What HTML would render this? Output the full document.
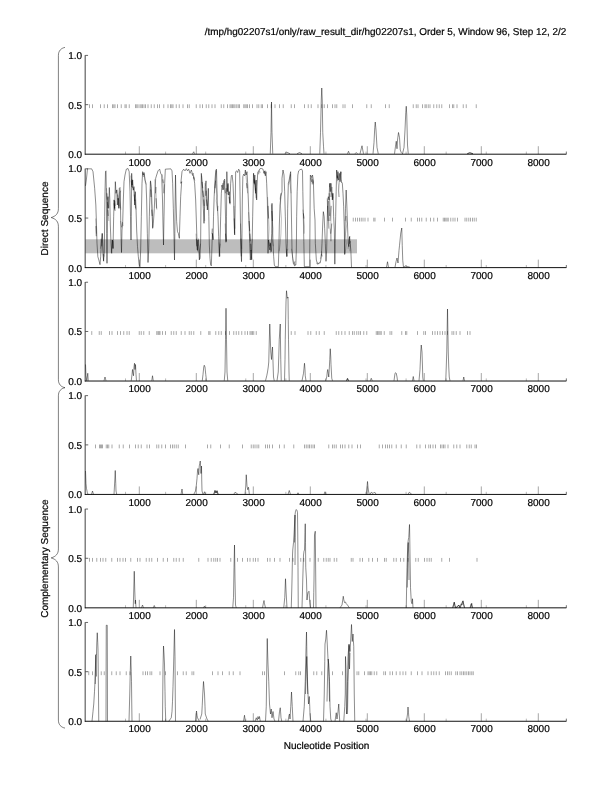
<!DOCTYPE html>
<html lang="en"><head><meta charset="utf-8"><title>hg02207s1 plot</title>
<style>html,body{margin:0;padding:0;background:#fff}body{width:612px;height:792px;overflow:hidden}svg{display:block;filter:grayscale(1)}</style>
</head><body>
<svg width="612" height="792" viewBox="0 0 612 792">
<rect width="612" height="792" fill="#fff"/>
<rect x="85.45" y="239.3" width="271.55" height="14.0" fill="#bdbdbd"/>
<text x="566.3" y="34.7" text-anchor="end" font-family="Liberation Sans, Arial, Helvetica, sans-serif" font-size="10" fill="#000" stroke="#000" stroke-width="0.2" text-rendering="geometricPrecision" textLength="361.5" lengthAdjust="spacingAndGlyphs">/tmp/hg02207s1/only/raw_result_dir/hg02207s1, Order 5, Window 96, Step 12, 2/2</text>
<path d="M89.50 104.30V108.10M92.50 104.30V108.10M100.50 104.30V108.10M104.25 104.30V108.10M107.50 104.30V108.10M112.50 104.30V108.10M113.75 104.30V108.10M115.00 104.30V108.10M117.50 104.30V108.10M121.25 104.30V108.10M125.00 104.30V108.10M126.25 104.30V108.10M129.25 104.30V108.10M135.50 104.30V108.10M136.75 104.30V108.10M138.00 104.30V108.10M140.00 104.30V108.10M141.25 104.30V108.10M142.50 104.30V108.10M144.00 104.30V108.10M145.50 104.30V108.10M148.00 104.30V108.10M151.25 104.30V108.10M154.25 104.30V108.10M157.50 104.30V108.10M159.50 104.30V108.10M163.75 104.30V108.10M168.00 104.30V108.10M170.50 104.30V108.10M171.75 104.30V108.10M173.00 104.30V108.10M176.25 104.30V108.10M179.25 104.30V108.10M183.00 104.30V108.10M187.50 104.30V108.10M189.25 104.30V108.10M196.25 104.30V108.10M200.00 104.30V108.10M202.50 104.30V108.10M206.25 104.30V108.10M208.75 104.30V108.10M212.00 104.30V108.10M215.00 104.30V108.10M221.25 104.30V108.10M223.75 104.30V108.10M227.50 104.30V108.10M230.00 104.30V108.10M231.25 104.30V108.10M232.50 104.30V108.10M233.75 104.30V108.10M235.00 104.30V108.10M236.75 104.30V108.10M238.25 104.30V108.10M239.50 104.30V108.10M243.75 104.30V108.10M245.00 104.30V108.10M246.25 104.30V108.10M247.50 104.30V108.10M249.50 104.30V108.10M252.50 104.30V108.10M257.00 104.30V108.10M258.75 104.30V108.10M261.25 104.30V108.10M262.50 104.30V108.10M267.50 104.30V108.10M271.25 104.30V108.10M275.00 104.30V108.10M279.50 104.30V108.10M283.25 104.30V108.10M291.25 104.30V108.10M294.50 104.30V108.10M304.50 104.30V108.10M308.25 104.30V108.10M311.25 104.30V108.10M318.00 104.30V108.10M321.75 104.30V108.10M324.25 104.30V108.10M327.50 104.30V108.10M332.50 104.30V108.10M335.00 104.30V108.10M336.75 104.30V108.10M343.00 104.30V108.10M345.00 104.30V108.10M352.50 104.30V108.10M366.75 104.30V108.10M371.25 104.30V108.10M385.50 104.30V108.10M389.25 104.30V108.10M413.25 104.30V108.10M416.25 104.30V108.10M418.00 104.30V108.10M422.50 104.30V108.10M425.00 104.30V108.10M426.25 104.30V108.10M428.25 104.30V108.10M430.00 104.30V108.10M433.75 104.30V108.10M436.75 104.30V108.10M439.25 104.30V108.10M441.75 104.30V108.10M449.50 104.30V108.10M452.50 104.30V108.10M453.75 104.30V108.10M457.00 104.30V108.10M463.25 104.30V108.10M466.25 104.30V108.10M476.25 104.30V108.10" stroke="#000" stroke-width="0.5" fill="none" opacity="0.68"/>
<path d="M139.30 154.20V146.20M196.30 154.20V146.20M253.30 154.20V146.20M310.30 154.20V146.20M367.30 154.20V146.20M424.30 154.20V146.20M481.30 154.20V146.20M538.30 154.20V146.20" stroke="#000" stroke-width="0.5" fill="none" opacity="0.7"/>
<path d="M125.53 154.20V151.60M165.61 154.20V151.60M205.69 154.20V151.60M245.77 154.20V151.60M285.85 154.20V151.60M325.93 154.20V151.60M366.01 154.20V151.60M406.09 154.20V151.60M446.17 154.20V151.60M486.25 154.20V151.60M526.33 154.20V151.60M566.41 154.20V151.60" stroke="#000" stroke-width="0.5" fill="none" opacity="0.55"/>
<path d="M192.50 153.75L193.75 151.75L194.50 153.75" stroke="#000" stroke-width="0.45" fill="none" stroke-linejoin="round"/>
<path d="M270.25 153.75L271.00 132.50L271.50 102.00L272.00 132.50L272.75 153.75" stroke="#000" stroke-width="0.45" fill="none" stroke-linejoin="round"/>
<path d="M285.00 153.75L286.25 152.00L288.00 152.75L290.00 153.75" stroke="#000" stroke-width="0.45" fill="none" stroke-linejoin="round"/>
<path d="M297.00 153.75L299.50 152.50L302.00 153.75" stroke="#000" stroke-width="0.45" fill="none" stroke-linejoin="round"/>
<path d="M319.75 153.75L320.50 132.50L321.25 100.00L321.75 88.00L322.25 100.00L322.75 132.50L323.50 146.25L324.00 153.75" stroke="#000" stroke-width="0.45" fill="none" stroke-linejoin="round"/>
<path d="M347.50 153.75L348.50 151.25L349.50 153.75" stroke="#000" stroke-width="0.45" fill="none" stroke-linejoin="round"/>
<path d="M360.00 153.75L361.25 148.75L362.00 145.75L362.75 150.00L363.50 153.75" stroke="#000" stroke-width="0.45" fill="none" stroke-linejoin="round"/>
<path d="M355.00 153.75L356.25 152.50L357.50 153.75" stroke="#000" stroke-width="0.45" fill="none" stroke-linejoin="round"/>
<path d="M373.00 153.75L374.00 142.50L374.75 127.50L375.25 122.00L376.00 130.00L377.00 147.50L378.25 153.75" stroke="#000" stroke-width="0.45" fill="none" stroke-linejoin="round"/>
<path d="M394.50 153.75L395.50 146.25L396.25 141.25L397.00 148.75L397.50 140.00L398.50 132.50L399.50 137.50L400.25 150.00L401.25 152.50L402.50 153.75" stroke="#000" stroke-width="0.45" fill="none" stroke-linejoin="round"/>
<path d="M402.50 153.75L404.00 147.50L405.00 130.00L405.75 112.50L406.25 106.25L406.75 115.00L407.50 145.00L408.25 153.75" stroke="#000" stroke-width="0.45" fill="none" stroke-linejoin="round"/>
<path d="M467.50 153.75L470.00 152.75L473.00 153.75" stroke="#000" stroke-width="0.45" fill="none" stroke-linejoin="round"/>
<path d="M467.00 153.75L469.50 152.75L473.00 153.75" stroke="#000" stroke-width="0.45" fill="none" stroke-linejoin="round"/>
<path d="M85.17 55.20V154.65" stroke="#000" stroke-width="0.75" fill="none"/>
<path d="M84.85 154.20H566.40" stroke="#000" stroke-width="0.94" fill="none"/>
<path d="M566.30 154.20V151.60" stroke="#000" stroke-width="0.5" fill="none" opacity="0.7"/>
<path d="M85.45 55.40H88.05" stroke="#000" stroke-width="0.6" fill="none"/>
<path d="M85.45 104.65H88.25" stroke="#000" stroke-width="0.6" fill="none"/>
<text x="82.2" y="58.90" text-anchor="end" font-family="Liberation Sans, Arial, Helvetica, sans-serif" font-size="10" fill="#000" stroke="#000" stroke-width="0.2" text-rendering="geometricPrecision">1.0</text>
<text x="82.2" y="108.65" text-anchor="end" font-family="Liberation Sans, Arial, Helvetica, sans-serif" font-size="10" fill="#000" stroke="#000" stroke-width="0.2" text-rendering="geometricPrecision">0.5</text>
<text x="82.2" y="158.15" text-anchor="end" font-family="Liberation Sans, Arial, Helvetica, sans-serif" font-size="10" fill="#000" stroke="#000" stroke-width="0.2" text-rendering="geometricPrecision">0.0</text>
<text x="139.60" y="165.90" text-anchor="middle" font-family="Liberation Sans, Arial, Helvetica, sans-serif" font-size="10" fill="#000" stroke="#000" stroke-width="0.2" text-rendering="geometricPrecision">1000</text>
<text x="196.60" y="165.90" text-anchor="middle" font-family="Liberation Sans, Arial, Helvetica, sans-serif" font-size="10" fill="#000" stroke="#000" stroke-width="0.2" text-rendering="geometricPrecision">2000</text>
<text x="253.60" y="165.90" text-anchor="middle" font-family="Liberation Sans, Arial, Helvetica, sans-serif" font-size="10" fill="#000" stroke="#000" stroke-width="0.2" text-rendering="geometricPrecision">3000</text>
<text x="310.60" y="165.90" text-anchor="middle" font-family="Liberation Sans, Arial, Helvetica, sans-serif" font-size="10" fill="#000" stroke="#000" stroke-width="0.2" text-rendering="geometricPrecision">4000</text>
<text x="367.60" y="165.90" text-anchor="middle" font-family="Liberation Sans, Arial, Helvetica, sans-serif" font-size="10" fill="#000" stroke="#000" stroke-width="0.2" text-rendering="geometricPrecision">5000</text>
<text x="424.60" y="165.90" text-anchor="middle" font-family="Liberation Sans, Arial, Helvetica, sans-serif" font-size="10" fill="#000" stroke="#000" stroke-width="0.2" text-rendering="geometricPrecision">6000</text>
<text x="481.60" y="165.90" text-anchor="middle" font-family="Liberation Sans, Arial, Helvetica, sans-serif" font-size="10" fill="#000" stroke="#000" stroke-width="0.2" text-rendering="geometricPrecision">7000</text>
<text x="538.60" y="165.90" text-anchor="middle" font-family="Liberation Sans, Arial, Helvetica, sans-serif" font-size="10" fill="#000" stroke="#000" stroke-width="0.2" text-rendering="geometricPrecision">8000</text>
<path d="M353.25 217.71V221.51M355.50 217.71V221.51M357.50 217.71V221.51M359.50 217.71V221.51M361.25 217.71V221.51M363.00 217.71V221.51M365.00 217.71V221.51M368.00 217.71V221.51M373.75 217.71V221.51M375.00 217.71V221.51M384.50 217.71V221.51M392.50 217.71V221.51M405.50 217.71V221.51M411.25 217.71V221.51M417.50 217.71V221.51M419.50 217.71V221.51M421.75 217.71V221.51M426.25 217.71V221.51M430.50 217.71V221.51M433.75 217.71V221.51M437.50 217.71V221.51M443.25 217.71V221.51M444.50 217.71V221.51M445.75 217.71V221.51M447.00 217.71V221.51M448.25 217.71V221.51M450.75 217.71V221.51M453.00 217.71V221.51M455.00 217.71V221.51M457.50 217.71V221.51M465.00 217.71V221.51M466.75 217.71V221.51M468.75 217.71V221.51M470.50 217.71V221.51M472.50 217.71V221.51M474.25 217.71V221.51M476.25 217.71V221.51" stroke="#000" stroke-width="0.5" fill="none" opacity="0.68"/>
<path d="M139.30 267.61V259.61M196.30 267.61V259.61M253.30 267.61V259.61M310.30 267.61V259.61M367.30 267.61V259.61M424.30 267.61V259.61M481.30 267.61V259.61M538.30 267.61V259.61" stroke="#000" stroke-width="0.5" fill="none" opacity="0.7"/>
<path d="M125.53 267.61V265.01M165.61 267.61V265.01M205.69 267.61V265.01M245.77 267.61V265.01M285.85 267.61V265.01M325.93 267.61V265.01M366.01 267.61V265.01M406.09 267.61V265.01M446.17 267.61V265.01M486.25 267.61V265.01M526.33 267.61V265.01M566.41 267.61V265.01" stroke="#000" stroke-width="0.5" fill="none" opacity="0.55"/>
<path d="M85.50 185.83L86.33 180.00L87.50 168.83L91.67 168.83L93.00 171.67L94.67 188.33L95.83 205.00L96.33 220.00L97.00 243.33L97.83 256.67L98.83 260.00L100.00 264.67L100.67 256.67L101.33 243.33L102.17 233.33L102.83 250.00L103.50 260.83L104.33 253.33L104.67 216.67L105.00 191.67L105.50 171.67L106.00 170.83L106.33 191.67L106.67 233.33L107.00 263.33L107.33 233.33L107.67 200.00L108.00 196.67L108.67 208.33L109.33 187.50L109.83 200.00L110.33 225.00L111.00 243.33L111.67 253.33L112.33 240.00L113.00 248.33L113.67 216.67L114.17 200.00L114.67 208.33L115.33 181.67L116.00 193.33L116.67 190.00L117.33 205.00L118.00 198.33L118.67 208.33L119.33 188.33L120.00 187.50L120.50 208.33L121.00 236.67L121.50 252.50L122.00 230.00L122.67 223.33L123.33 200.00L124.00 181.67L125.00 175.00L126.33 169.17L128.00 168.51L129.17 171.67L130.00 191.67L130.50 216.67L131.00 240.00L131.33 216.67L131.67 173.33L132.17 185.00L132.67 180.00L133.33 190.00L134.00 186.67L134.67 205.00L135.33 191.67L136.00 208.33L136.67 230.00L137.50 246.67L138.33 256.67L139.33 265.00L140.00 266.67L140.67 250.00L141.33 216.67L142.00 183.33L142.67 171.67L143.33 175.00L144.00 172.50L145.00 180.00L146.00 183.33L146.67 200.00L147.33 233.33L148.00 262.50L148.67 250.00L149.33 216.67L150.00 191.67L150.50 180.83L151.33 186.67L152.00 205.00L152.67 228.33L153.33 223.33L154.33 208.33L155.00 191.67L155.67 178.33L156.67 175.00L158.00 170.83L159.67 169.17L160.67 173.33L161.67 175.00L162.50 200.00L163.00 225.00L163.50 245.00L164.00 216.67L164.67 183.33L165.33 169.17L170.83 168.83L172.00 170.83L172.67 183.33L173.33 208.33L174.00 236.67L174.50 260.00L174.83 233.33L175.17 200.00L175.50 175.00L176.00 200.00L176.67 221.67L177.50 231.67L178.33 233.33L179.33 238.33L180.00 216.67L180.67 196.67L181.67 181.67L180.83 183.33L182.00 171.67L183.67 169.17L185.00 170.83L186.33 168.67L187.50 170.83L188.67 169.17L190.00 173.33L191.33 170.00L192.50 174.17L193.67 176.67L194.67 183.33L195.67 200.00L196.33 220.00L196.83 236.67L197.33 250.00L198.00 240.00L198.67 246.67L199.33 260.00L200.00 256.67L200.67 240.00L201.00 200.00L201.33 173.33L202.00 183.33L202.67 193.33L203.33 208.33L204.00 223.33L204.67 205.00L205.33 186.67L206.00 180.83L206.67 196.67L207.33 210.00L208.00 198.33L208.33 188.33L208.83 216.67L209.33 245.00L210.00 258.33L210.67 265.00L211.33 265.83L211.83 250.00L212.33 233.33L213.00 240.00L213.50 216.67L214.17 196.67L215.00 180.00L215.83 170.00L216.50 169.17L216.83 183.33L217.33 205.00L218.00 216.67L218.67 236.67L219.33 256.67L220.00 243.33L220.67 216.67L221.33 193.33L222.00 185.00L223.00 190.00L223.67 180.83L224.67 179.17L225.17 200.00L225.67 225.00L226.17 241.67L226.50 216.67L226.83 171.67L227.33 191.67L228.00 183.33L228.67 195.00L229.33 191.67L230.00 203.33L230.67 183.33L231.33 175.83L232.17 175.00L233.00 183.33L233.67 200.00L234.17 220.00L234.67 235.00L235.17 208.33L235.67 171.67L236.67 170.83L237.67 172.50L238.67 169.17L239.67 170.83L240.00 191.67L240.50 225.00L241.00 250.00L241.50 261.67L242.00 233.33L242.33 200.00L242.83 176.67L243.67 174.17L244.67 175.83L245.33 170.00L246.17 175.00L247.00 171.67L247.67 183.33L248.33 200.00L249.00 220.00L249.67 243.33L250.33 260.00L251.00 250.00L251.67 260.00L252.17 243.33L252.67 216.67L253.17 193.33L253.50 173.33L254.17 183.33L254.83 175.00L255.50 193.33L256.17 180.00L256.67 200.00L257.00 186.67L257.67 173.33L258.67 170.83L260.00 168.67L261.67 168.51L263.00 169.17L264.00 173.33L264.67 170.83L265.33 175.83L266.00 171.67L266.67 183.33L267.33 200.00L267.67 220.00L268.00 253.33L268.50 240.00L269.17 246.67L269.83 250.00L270.50 243.33L271.17 251.67L271.67 233.33L272.00 203.33L272.50 225.00L273.00 243.33L273.67 256.67L274.33 265.00L275.33 266.67L278.33 266.67L278.83 250.00L279.33 225.00L280.00 205.00L280.83 196.67L282.00 191.67L282.00 178.33L283.00 170.00L284.00 175.00L284.67 191.67L285.33 216.67L286.00 243.33L286.67 256.67L287.33 243.33L287.67 208.33L288.33 183.33L289.17 180.00L290.00 175.00L290.67 171.67L291.00 191.67L291.50 220.00L292.00 250.00L292.67 258.33L293.33 263.33L294.67 265.83L295.83 265.00L296.33 250.00L296.67 216.67L297.17 191.67L297.83 175.00L298.67 170.83L300.00 169.67L301.67 169.17L302.50 170.83L302.83 191.67L303.33 216.67L303.83 241.67L304.33 266.67L309.67 266.67L310.00 216.67L310.33 175.00L311.00 175.83L311.67 177.50L312.50 175.00L313.33 180.00L314.17 208.33L315.00 220.00L315.33 243.33L316.33 260.00L317.50 264.17L319.17 263.33L320.33 262.50L321.33 256.67L322.00 243.33L322.67 225.00L323.33 211.67L324.17 216.67L324.67 228.33L325.33 243.33L326.00 261.33L326.67 250.00L327.17 225.00L327.67 200.00L328.33 196.67L329.00 200.00L329.67 183.33L330.33 191.67L331.00 183.33L331.67 191.67L332.33 200.00L333.00 193.33L333.67 216.67L334.33 230.00L334.83 264.17L335.17 243.33L335.67 216.67L336.17 191.67L336.67 170.00L337.33 178.33L338.00 171.67L338.67 180.00L339.33 173.33L340.00 181.67L340.67 171.67L341.33 181.67L342.33 183.33L343.00 193.33L343.67 206.67L344.33 230.00L344.67 254.50L345.00 230.00L345.50 208.33L346.17 190.00L346.83 205.00L347.50 225.00L348.17 243.33L348.83 246.67L349.50 236.67L350.17 243.33L350.83 250.00L351.50 267.17" stroke="#000" stroke-width="0.45" fill="none" stroke-linejoin="round"/>
<path d="M386.50 267.25L387.50 261.75L388.50 267.25" stroke="#000" stroke-width="0.45" fill="none" stroke-linejoin="round"/>
<path d="M395.00 267.25L396.00 261.75L397.00 258.00L398.00 263.00L399.00 250.50L399.50 245.50L400.25 238.00L400.75 233.00L401.75 228.00L402.25 245.50L402.75 260.50L403.50 267.25L405.50 266.00L407.50 266.50L410.00 267.25" stroke="#000" stroke-width="0.45" fill="none" stroke-linejoin="round"/>
<path d="M106.47 188.20L107.23 199.57L106.85 193.25L107.74 208.40L107.36 202.09L108.24 215.98L107.86 209.67L108.75 221.03" stroke="#000" stroke-width="0.45" fill="none" stroke-linejoin="round" opacity="0.55"/>
<path d="M113.80 199.57L114.56 209.67L114.05 203.35L115.06 210.93L114.68 200.83L115.57 205.88" stroke="#000" stroke-width="0.45" fill="none" stroke-linejoin="round" opacity="0.55"/>
<path d="M117.08 189.46L118.09 199.57L117.59 194.52L118.85 205.88L118.34 198.30L119.86 208.40L119.35 193.25L120.62 190.73L120.11 200.83L120.87 209.67" stroke="#000" stroke-width="0.45" fill="none" stroke-linejoin="round" opacity="0.55"/>
<path d="M133.87 188.20L134.76 200.83L134.25 194.52L135.52 208.40L135.01 199.57L136.02 209.67" stroke="#000" stroke-width="0.45" fill="none" stroke-linejoin="round" opacity="0.55"/>
<path d="M95.74 218.51L96.25 236.18L95.99 226.08L96.50 233.66" stroke="#000" stroke-width="0.45" fill="none" stroke-linejoin="round" opacity="0.55"/>
<path d="M100.41 248.81L101.17 238.71L101.68 246.28L102.43 233.66L102.94 243.76L103.70 261.43L103.19 253.86L104.20 256.38" stroke="#000" stroke-width="0.45" fill="none" stroke-linejoin="round" opacity="0.55"/>
<path d="M111.15 252.60L112.03 243.76L112.54 239.97L113.04 248.81L113.42 241.23" stroke="#000" stroke-width="0.45" fill="none" stroke-linejoin="round" opacity="0.55"/>
<path d="M154.71 179.36L155.46 193.25L155.97 186.94L156.47 208.40L156.10 198.30L156.85 209.67" stroke="#000" stroke-width="0.45" fill="none" stroke-linejoin="round" opacity="0.55"/>
<path d="M150.29 181.89L151.05 197.04L150.67 189.46L151.68 205.88L152.18 215.98L151.80 209.67L152.81 227.34" stroke="#000" stroke-width="0.45" fill="none" stroke-linejoin="round" opacity="0.55"/>
<path d="M120.62 221.03L121.63 227.34L122.51 222.29L123.14 226.08" stroke="#000" stroke-width="0.45" fill="none" stroke-linejoin="round" opacity="0.55"/>
<path d="M130.72 175.58L131.73 186.94L131.22 180.63L132.48 188.20L131.98 179.36L133.24 190.73" stroke="#000" stroke-width="0.45" fill="none" stroke-linejoin="round" opacity="0.55"/>
<path d="M142.33 173.05L143.34 176.84L144.35 173.68L145.36 183.15L146.12 184.41" stroke="#000" stroke-width="0.45" fill="none" stroke-linejoin="round" opacity="0.55"/>
<path d="M195.98 233.66L196.87 246.28L196.36 238.71L197.63 251.33L197.12 243.76L198.38 238.71L199.14 248.81L199.90 258.91L199.39 251.33L200.66 243.76" stroke="#000" stroke-width="0.45" fill="none" stroke-linejoin="round" opacity="0.55"/>
<path d="M201.67 175.58L202.68 188.20L202.17 181.89L203.43 197.04L202.93 190.73L204.19 205.88L203.69 199.57L204.70 221.03" stroke="#000" stroke-width="0.45" fill="none" stroke-linejoin="round" opacity="0.55"/>
<path d="M204.95 183.15L205.71 195.78L206.21 190.73L206.97 205.88L206.46 199.57L207.73 209.67" stroke="#000" stroke-width="0.45" fill="none" stroke-linejoin="round" opacity="0.55"/>
<path d="M214.55 193.25L215.56 180.63L215.05 188.20L216.31 170.53L215.81 179.36L216.82 195.78L216.31 200.83L217.58 210.93L218.08 205.88" stroke="#000" stroke-width="0.45" fill="none" stroke-linejoin="round" opacity="0.55"/>
<path d="M221.87 186.94L222.88 183.15L223.64 189.46L224.65 180.63L224.14 185.68L225.40 193.25L226.16 188.20L227.17 194.52L227.93 184.41L228.69 193.25L229.70 203.35L229.19 197.04L230.20 204.62" stroke="#000" stroke-width="0.45" fill="none" stroke-linejoin="round" opacity="0.55"/>
<path d="M211.52 233.66L212.27 228.61L213.03 238.71L212.53 233.66" stroke="#000" stroke-width="0.45" fill="none" stroke-linejoin="round" opacity="0.55"/>
<path d="M162.27 174.31L163.28 183.15L162.78 179.36L163.79 193.25L164.55 184.41" stroke="#000" stroke-width="0.45" fill="none" stroke-linejoin="round" opacity="0.55"/>
<path d="M191.57 173.05L192.58 175.58L193.33 173.05L194.09 179.36L193.59 176.84L194.85 180.63" stroke="#000" stroke-width="0.45" fill="none" stroke-linejoin="round" opacity="0.55"/>
<path d="M219.09 242.49L219.85 256.38L219.47 248.81L220.35 243.76" stroke="#000" stroke-width="0.45" fill="none" stroke-linejoin="round" opacity="0.55"/>
<path d="M225.15 223.56L225.91 242.49L225.53 233.66L226.41 241.23" stroke="#000" stroke-width="0.45" fill="none" stroke-linejoin="round" opacity="0.55"/>
<path d="M233.99 205.88L234.49 233.66L234.24 218.51L235.00 228.61" stroke="#000" stroke-width="0.45" fill="none" stroke-linejoin="round" opacity="0.55"/>
<path d="M248.63 212.19L249.64 231.13L249.13 221.03L250.39 241.23L249.89 233.66L251.15 251.33L250.65 243.76L251.66 258.91L251.15 248.81L252.16 238.71" stroke="#000" stroke-width="0.45" fill="none" stroke-linejoin="round" opacity="0.55"/>
<path d="M253.68 173.05L254.69 184.41L254.18 179.36L255.44 190.73L254.94 180.63L256.20 198.30L255.70 188.20" stroke="#000" stroke-width="0.45" fill="none" stroke-linejoin="round" opacity="0.55"/>
<path d="M245.47 171.79L246.35 179.36L247.11 188.20L246.61 183.15L247.62 193.25" stroke="#000" stroke-width="0.45" fill="none" stroke-linejoin="round" opacity="0.55"/>
<path d="M267.57 197.04L268.58 218.51L268.07 205.88L269.08 228.61L268.58 238.71L269.59 246.28L270.09 242.49L271.10 248.81L270.60 252.60" stroke="#000" stroke-width="0.45" fill="none" stroke-linejoin="round" opacity="0.55"/>
<path d="M271.35 204.62L272.36 221.03L271.86 210.93L272.87 228.61L272.11 238.71L273.37 246.28" stroke="#000" stroke-width="0.45" fill="none" stroke-linejoin="round" opacity="0.55"/>
<path d="M279.94 199.57L280.95 193.25L280.44 205.88L281.45 218.51L280.95 233.66L280.19 243.76L279.18 251.33" stroke="#000" stroke-width="0.45" fill="none" stroke-linejoin="round" opacity="0.55"/>
<path d="M288.78 184.41L289.79 180.63L290.55 174.31L290.04 183.15L291.05 193.25" stroke="#000" stroke-width="0.45" fill="none" stroke-linejoin="round" opacity="0.55"/>
<path d="M286.51 248.81L287.26 256.38L286.76 251.33L288.02 248.81" stroke="#000" stroke-width="0.45" fill="none" stroke-linejoin="round" opacity="0.55"/>
<path d="M291.56 248.81L292.57 256.38L293.32 261.43L294.08 263.96L294.84 261.43L294.33 265.22L295.60 263.96" stroke="#000" stroke-width="0.45" fill="none" stroke-linejoin="round" opacity="0.55"/>
<path d="M302.92 209.67L303.93 218.51L303.42 213.45L304.43 226.08L304.18 233.66" stroke="#000" stroke-width="0.45" fill="none" stroke-linejoin="round" opacity="0.55"/>
<path d="M310.49 175.58L311.51 181.89L311.00 178.10L312.26 184.41L313.02 180.63" stroke="#000" stroke-width="0.45" fill="none" stroke-linejoin="round" opacity="0.55"/>
<path d="M240.55 223.56L241.30 256.38L240.92 238.71L241.68 248.81" stroke="#000" stroke-width="0.45" fill="none" stroke-linejoin="round" opacity="0.55"/>
<path d="M257.72 171.79L258.73 174.31L259.48 170.53L260.24 173.05" stroke="#000" stroke-width="0.45" fill="none" stroke-linejoin="round" opacity="0.55"/>
<path d="M263.78 171.79L264.79 174.31L265.55 170.53" stroke="#000" stroke-width="0.45" fill="none" stroke-linejoin="round" opacity="0.55"/>
<path d="M327.15 198.30L328.16 221.03L327.66 205.88L328.92 228.61L328.41 200.83L329.68 215.98L329.17 193.25L330.43 209.67L329.93 221.03L331.19 205.88L330.69 233.66L331.70 223.56L330.94 241.23L330.18 228.61" stroke="#000" stroke-width="0.45" fill="none" stroke-linejoin="round" opacity="0.55"/>
<path d="M329.42 186.94L330.43 183.15L330.94 197.04L331.95 186.94L332.71 199.57L332.20 193.25L333.21 198.30" stroke="#000" stroke-width="0.45" fill="none" stroke-linejoin="round" opacity="0.55"/>
<path d="M336.75 170.53L337.76 180.63L337.25 175.58L338.52 185.68L339.02 197.04L338.52 190.73L339.78 180.63L340.54 175.58L341.29 171.79L340.79 179.36L341.80 183.15" stroke="#000" stroke-width="0.45" fill="none" stroke-linejoin="round" opacity="0.55"/>
<path d="M345.08 221.03L346.09 215.98L346.85 223.56L345.59 233.66L346.34 243.76L345.08 253.86" stroke="#000" stroke-width="0.45" fill="none" stroke-linejoin="round" opacity="0.55"/>
<path d="M348.11 248.81L349.12 238.71L349.88 236.18L349.37 243.76L350.38 241.23L349.88 251.33" stroke="#000" stroke-width="0.45" fill="none" stroke-linejoin="round" opacity="0.55"/>
<path d="M316.55 263.96L317.56 262.70L318.57 263.45L319.58 262.07L320.59 262.95" stroke="#000" stroke-width="0.45" fill="none" stroke-linejoin="round" opacity="0.55"/>
<path d="M312.00 176.84L313.01 183.15L312.51 179.36L313.52 184.41" stroke="#000" stroke-width="0.45" fill="none" stroke-linejoin="round" opacity="0.55"/>
<path d="M320.33 258.91L321.34 253.86L322.10 256.38L321.60 251.33" stroke="#000" stroke-width="0.45" fill="none" stroke-linejoin="round" opacity="0.55"/>
<path d="M85.17 168.61V268.06" stroke="#000" stroke-width="0.75" fill="none"/>
<path d="M84.85 267.61H566.40" stroke="#000" stroke-width="0.94" fill="none"/>
<path d="M566.30 267.61V265.01" stroke="#000" stroke-width="0.5" fill="none" opacity="0.7"/>
<path d="M85.45 168.81H88.05" stroke="#000" stroke-width="0.6" fill="none"/>
<path d="M85.45 218.06H88.25" stroke="#000" stroke-width="0.6" fill="none"/>
<text x="82.2" y="172.31" text-anchor="end" font-family="Liberation Sans, Arial, Helvetica, sans-serif" font-size="10" fill="#000" stroke="#000" stroke-width="0.2" text-rendering="geometricPrecision">1.0</text>
<text x="82.2" y="222.06" text-anchor="end" font-family="Liberation Sans, Arial, Helvetica, sans-serif" font-size="10" fill="#000" stroke="#000" stroke-width="0.2" text-rendering="geometricPrecision">0.5</text>
<text x="82.2" y="271.56" text-anchor="end" font-family="Liberation Sans, Arial, Helvetica, sans-serif" font-size="10" fill="#000" stroke="#000" stroke-width="0.2" text-rendering="geometricPrecision">0.0</text>
<text x="139.60" y="279.11" text-anchor="middle" font-family="Liberation Sans, Arial, Helvetica, sans-serif" font-size="10" fill="#000" stroke="#000" stroke-width="0.2" text-rendering="geometricPrecision">1000</text>
<text x="196.60" y="279.11" text-anchor="middle" font-family="Liberation Sans, Arial, Helvetica, sans-serif" font-size="10" fill="#000" stroke="#000" stroke-width="0.2" text-rendering="geometricPrecision">2000</text>
<text x="253.60" y="279.11" text-anchor="middle" font-family="Liberation Sans, Arial, Helvetica, sans-serif" font-size="10" fill="#000" stroke="#000" stroke-width="0.2" text-rendering="geometricPrecision">3000</text>
<text x="310.60" y="279.11" text-anchor="middle" font-family="Liberation Sans, Arial, Helvetica, sans-serif" font-size="10" fill="#000" stroke="#000" stroke-width="0.2" text-rendering="geometricPrecision">4000</text>
<text x="367.60" y="279.11" text-anchor="middle" font-family="Liberation Sans, Arial, Helvetica, sans-serif" font-size="10" fill="#000" stroke="#000" stroke-width="0.2" text-rendering="geometricPrecision">5000</text>
<text x="424.60" y="279.11" text-anchor="middle" font-family="Liberation Sans, Arial, Helvetica, sans-serif" font-size="10" fill="#000" stroke="#000" stroke-width="0.2" text-rendering="geometricPrecision">6000</text>
<text x="481.60" y="279.11" text-anchor="middle" font-family="Liberation Sans, Arial, Helvetica, sans-serif" font-size="10" fill="#000" stroke="#000" stroke-width="0.2" text-rendering="geometricPrecision">7000</text>
<text x="538.60" y="279.11" text-anchor="middle" font-family="Liberation Sans, Arial, Helvetica, sans-serif" font-size="10" fill="#000" stroke="#000" stroke-width="0.2" text-rendering="geometricPrecision">8000</text>
<path d="M91.75 331.12V334.92M99.25 331.12V334.92M101.25 331.12V334.92M109.50 331.12V334.92M112.00 331.12V334.92M117.50 331.12V334.92M120.50 331.12V334.92M123.75 331.12V334.92M127.00 331.12V334.92M129.25 331.12V334.92M139.25 331.12V334.92M141.25 331.12V334.92M143.75 331.12V334.92M149.25 331.12V334.92M156.75 331.12V334.92M158.00 331.12V334.92M159.00 331.12V334.92M160.00 331.12V334.92M162.50 331.12V334.92M165.50 331.12V334.92M171.25 331.12V334.92M173.75 331.12V334.92M176.25 331.12V334.92M181.25 331.12V334.92M185.00 331.12V334.92M189.25 331.12V334.92M191.25 331.12V334.92M193.75 331.12V334.92M200.75 331.12V334.92M208.75 331.12V334.92M210.00 331.12V334.92M215.75 331.12V334.92M218.75 331.12V334.92M221.25 331.12V334.92M225.50 331.12V334.92M229.50 331.12V334.92M233.75 331.12V334.92M236.25 331.12V334.92M238.75 331.12V334.92M241.75 331.12V334.92M245.00 331.12V334.92M247.50 331.12V334.92M250.00 331.12V334.92M251.25 331.12V334.92M252.50 331.12V334.92M253.75 331.12V334.92M256.25 331.12V334.92M291.25 331.12V334.92M295.00 331.12V334.92M308.00 331.12V334.92M310.75 331.12V334.92M316.25 331.12V334.92M319.25 331.12V334.92M324.25 331.12V334.92M336.25 331.12V334.92M338.75 331.12V334.92M341.75 331.12V334.92M345.00 331.12V334.92M349.25 331.12V334.92M352.50 331.12V334.92M354.25 331.12V334.92M356.75 331.12V334.92M358.75 331.12V334.92M360.50 331.12V334.92M363.75 331.12V334.92M366.75 331.12V334.92M376.25 331.12V334.92M377.50 331.12V334.92M378.75 331.12V334.92M380.00 331.12V334.92M381.25 331.12V334.92M384.25 331.12V334.92M390.00 331.12V334.92M391.75 331.12V334.92M401.75 331.12V334.92M405.50 331.12V334.92M406.75 331.12V334.92M417.50 331.12V334.92M423.75 331.12V334.92M425.50 331.12V334.92M432.50 331.12V334.92M435.00 331.12V334.92M437.50 331.12V334.92M440.00 331.12V334.92M442.50 331.12V334.92M445.00 331.12V334.92M447.50 331.12V334.92M452.00 331.12V334.92M453.75 331.12V334.92M456.25 331.12V334.92M460.00 331.12V334.92M467.50 331.12V334.92M470.00 331.12V334.92" stroke="#000" stroke-width="0.5" fill="none" opacity="0.68"/>
<path d="M139.30 381.02V373.02M196.30 381.02V373.02M253.30 381.02V373.02M310.30 381.02V373.02M367.30 381.02V373.02M424.30 381.02V373.02M481.30 381.02V373.02M538.30 381.02V373.02" stroke="#000" stroke-width="0.5" fill="none" opacity="0.7"/>
<path d="M125.53 381.02V378.42M165.61 381.02V378.42M205.69 381.02V378.42M245.77 381.02V378.42M285.85 381.02V378.42M325.93 381.02V378.42M366.01 381.02V378.42M406.09 381.02V378.42M446.17 381.02V378.42M486.25 381.02V378.42M526.33 381.02V378.42M566.41 381.02V378.42" stroke="#000" stroke-width="0.5" fill="none" opacity="0.55"/>
<path d="M85.50 364.50L86.00 375.75L86.75 380.75L87.25 377.00L87.75 373.25L88.25 380.75" stroke="#000" stroke-width="0.45" fill="none" stroke-linejoin="round"/>
<path d="M104.00 380.75L105.00 377.00L106.00 380.75" stroke="#000" stroke-width="0.45" fill="none" stroke-linejoin="round"/>
<path d="M131.25 380.75L132.00 374.50L132.50 369.50L133.00 373.25L133.50 375.75L134.00 367.00L134.50 363.25L135.00 369.50L135.50 364.50L136.00 374.50L136.50 380.75" stroke="#000" stroke-width="0.45" fill="none" stroke-linejoin="round"/>
<path d="M151.75 380.75L152.50 375.75L153.25 380.75" stroke="#000" stroke-width="0.45" fill="none" stroke-linejoin="round"/>
<path d="M202.25 380.75L203.00 374.50L203.75 367.00L204.25 365.25L205.00 367.00L205.75 374.50L206.50 380.75" stroke="#000" stroke-width="0.45" fill="none" stroke-linejoin="round"/>
<path d="M224.25 380.75L225.00 372.00L225.50 339.50L226.00 308.25L226.50 339.50L227.00 372.00L227.75 380.75" stroke="#000" stroke-width="0.45" fill="none" stroke-linejoin="round"/>
<path d="M265.50 380.75L266.75 375.75L267.50 372.00L268.25 367.00L268.75 362.00L269.25 342.00L269.75 324.00L270.25 337.00L270.75 352.00L271.50 359.50L272.00 352.00L272.50 347.00L273.00 362.00L273.50 377.00L274.25 380.75" stroke="#000" stroke-width="0.45" fill="none" stroke-linejoin="round"/>
<path d="M277.00 380.75L278.25 372.00L278.75 357.00L279.25 339.50L280.25 324.00L280.50 342.00L280.75 359.50L281.25 380.75" stroke="#000" stroke-width="0.45" fill="none" stroke-linejoin="round"/>
<path d="M284.50 380.75L285.00 359.50L285.25 339.50L286.00 302.00L286.50 290.75L287.25 298.25L288.00 297.00L288.25 319.50L288.50 339.50L289.00 372.00L289.25 380.75" stroke="#000" stroke-width="0.45" fill="none" stroke-linejoin="round"/>
<path d="M302.00 380.75L303.50 373.25L304.00 368.25L304.50 363.25L305.00 369.50L305.25 375.75L306.00 380.75" stroke="#000" stroke-width="0.45" fill="none" stroke-linejoin="round"/>
<path d="M325.50 380.75L326.75 377.00L327.25 372.00L327.75 369.50L328.25 373.25L328.75 377.00L329.25 369.50L329.75 359.50L330.25 348.75L330.75 357.00L331.00 364.50L331.75 378.25L332.50 380.75" stroke="#000" stroke-width="0.45" fill="none" stroke-linejoin="round"/>
<path d="M346.50 380.75L347.50 378.25L348.50 380.75" stroke="#000" stroke-width="0.45" fill="none" stroke-linejoin="round"/>
<path d="M346.50 380.75L347.50 378.75L348.50 380.75" stroke="#000" stroke-width="0.45" fill="none" stroke-linejoin="round"/>
<path d="M370.25 380.75L371.25 378.25L372.25 380.75" stroke="#000" stroke-width="0.45" fill="none" stroke-linejoin="round"/>
<path d="M394.00 380.75L394.50 377.00L395.00 373.25L395.75 372.75L396.25 373.25L397.00 377.00L397.50 380.75" stroke="#000" stroke-width="0.45" fill="none" stroke-linejoin="round"/>
<path d="M412.50 380.75L413.25 376.50L414.00 380.75" stroke="#000" stroke-width="0.45" fill="none" stroke-linejoin="round"/>
<path d="M419.00 380.75L420.00 369.50L420.75 352.00L421.25 345.00L422.00 352.00L422.50 367.00L422.75 377.00L423.25 380.75" stroke="#000" stroke-width="0.45" fill="none" stroke-linejoin="round"/>
<path d="M445.75 380.75L446.25 367.00L446.75 352.00L447.50 309.00L448.25 352.00L448.75 367.00L449.25 377.00L450.00 380.75" stroke="#000" stroke-width="0.45" fill="none" stroke-linejoin="round"/>
<path d="M463.00 380.75L463.75 377.00L464.50 380.75" stroke="#000" stroke-width="0.45" fill="none" stroke-linejoin="round"/>
<path d="M85.17 282.02V381.47" stroke="#000" stroke-width="0.75" fill="none"/>
<path d="M84.85 381.02H566.40" stroke="#000" stroke-width="0.94" fill="none"/>
<path d="M566.30 381.02V378.42" stroke="#000" stroke-width="0.5" fill="none" opacity="0.7"/>
<path d="M85.45 282.22H88.05" stroke="#000" stroke-width="0.6" fill="none"/>
<path d="M85.45 331.47H88.25" stroke="#000" stroke-width="0.6" fill="none"/>
<text x="82.2" y="285.72" text-anchor="end" font-family="Liberation Sans, Arial, Helvetica, sans-serif" font-size="10" fill="#000" stroke="#000" stroke-width="0.2" text-rendering="geometricPrecision">1.0</text>
<text x="82.2" y="335.47" text-anchor="end" font-family="Liberation Sans, Arial, Helvetica, sans-serif" font-size="10" fill="#000" stroke="#000" stroke-width="0.2" text-rendering="geometricPrecision">0.5</text>
<text x="82.2" y="384.97" text-anchor="end" font-family="Liberation Sans, Arial, Helvetica, sans-serif" font-size="10" fill="#000" stroke="#000" stroke-width="0.2" text-rendering="geometricPrecision">0.0</text>
<text x="139.60" y="392.32" text-anchor="middle" font-family="Liberation Sans, Arial, Helvetica, sans-serif" font-size="10" fill="#000" stroke="#000" stroke-width="0.2" text-rendering="geometricPrecision">1000</text>
<text x="196.60" y="392.32" text-anchor="middle" font-family="Liberation Sans, Arial, Helvetica, sans-serif" font-size="10" fill="#000" stroke="#000" stroke-width="0.2" text-rendering="geometricPrecision">2000</text>
<text x="253.60" y="392.32" text-anchor="middle" font-family="Liberation Sans, Arial, Helvetica, sans-serif" font-size="10" fill="#000" stroke="#000" stroke-width="0.2" text-rendering="geometricPrecision">3000</text>
<text x="310.60" y="392.32" text-anchor="middle" font-family="Liberation Sans, Arial, Helvetica, sans-serif" font-size="10" fill="#000" stroke="#000" stroke-width="0.2" text-rendering="geometricPrecision">4000</text>
<text x="367.60" y="392.32" text-anchor="middle" font-family="Liberation Sans, Arial, Helvetica, sans-serif" font-size="10" fill="#000" stroke="#000" stroke-width="0.2" text-rendering="geometricPrecision">5000</text>
<text x="424.60" y="392.32" text-anchor="middle" font-family="Liberation Sans, Arial, Helvetica, sans-serif" font-size="10" fill="#000" stroke="#000" stroke-width="0.2" text-rendering="geometricPrecision">6000</text>
<text x="481.60" y="392.32" text-anchor="middle" font-family="Liberation Sans, Arial, Helvetica, sans-serif" font-size="10" fill="#000" stroke="#000" stroke-width="0.2" text-rendering="geometricPrecision">7000</text>
<text x="538.60" y="392.32" text-anchor="middle" font-family="Liberation Sans, Arial, Helvetica, sans-serif" font-size="10" fill="#000" stroke="#000" stroke-width="0.2" text-rendering="geometricPrecision">8000</text>
<path d="M95.50 444.53V448.33M99.50 444.53V448.33M100.50 444.53V448.33M101.50 444.53V448.33M102.50 444.53V448.33M106.25 444.53V448.33M107.50 444.53V448.33M108.75 444.53V448.33M112.00 444.53V448.33M119.25 444.53V448.33M123.25 444.53V448.33M129.50 444.53V448.33M135.50 444.53V448.33M138.25 444.53V448.33M141.25 444.53V448.33M147.00 444.53V448.33M149.50 444.53V448.33M156.75 444.53V448.33M158.75 444.53V448.33M161.75 444.53V448.33M165.50 444.53V448.33M170.50 444.53V448.33M172.50 444.53V448.33M174.25 444.53V448.33M176.25 444.53V448.33M178.25 444.53V448.33M185.50 444.53V448.33M207.50 444.53V448.33M210.75 444.53V448.33M220.50 444.53V448.33M229.25 444.53V448.33M242.50 444.53V448.33M251.25 444.53V448.33M253.25 444.53V448.33M255.00 444.53V448.33M257.00 444.53V448.33M258.75 444.53V448.33M265.50 444.53V448.33M267.50 444.53V448.33M269.50 444.53V448.33M272.50 444.53V448.33M279.50 444.53V448.33M284.25 444.53V448.33M293.75 444.53V448.33M304.50 444.53V448.33M306.25 444.53V448.33M308.00 444.53V448.33M309.50 444.53V448.33M311.25 444.53V448.33M313.00 444.53V448.33M314.50 444.53V448.33M328.75 444.53V448.33M332.50 444.53V448.33M334.25 444.53V448.33M336.25 444.53V448.33M340.50 444.53V448.33M342.50 444.53V448.33M345.00 444.53V448.33M348.75 444.53V448.33M352.00 444.53V448.33M357.50 444.53V448.33M360.50 444.53V448.33M379.25 444.53V448.33M382.50 444.53V448.33M385.50 444.53V448.33M387.50 444.53V448.33M389.50 444.53V448.33M391.75 444.53V448.33M396.25 444.53V448.33M401.25 444.53V448.33M406.25 444.53V448.33M416.75 444.53V448.33M420.00 444.53V448.33M425.50 444.53V448.33M428.75 444.53V448.33M430.50 444.53V448.33M433.00 444.53V448.33M435.50 444.53V448.33M440.50 444.53V448.33M442.00 444.53V448.33M443.50 444.53V448.33M445.00 444.53V448.33M448.00 444.53V448.33M453.75 444.53V448.33M456.75 444.53V448.33M460.00 444.53V448.33M466.75 444.53V448.33M469.25 444.53V448.33M471.25 444.53V448.33M475.00 444.53V448.33M476.50 444.53V448.33" stroke="#000" stroke-width="0.5" fill="none" opacity="0.68"/>
<path d="M139.30 494.43V486.43M196.30 494.43V486.43M253.30 494.43V486.43M310.30 494.43V486.43M367.30 494.43V486.43M424.30 494.43V486.43M481.30 494.43V486.43M538.30 494.43V486.43" stroke="#000" stroke-width="0.5" fill="none" opacity="0.7"/>
<path d="M125.53 494.43V491.83M165.61 494.43V491.83M205.69 494.43V491.83M245.77 494.43V491.83M285.85 494.43V491.83M325.93 494.43V491.83M366.01 494.43V491.83M406.09 494.43V491.83M446.17 494.43V491.83M486.25 494.43V491.83M526.33 494.43V491.83M566.41 494.43V491.83" stroke="#000" stroke-width="0.5" fill="none" opacity="0.55"/>
<path d="M85.50 471.00L86.00 483.50L86.50 488.50L87.50 493.50L88.75 494.43" stroke="#000" stroke-width="0.45" fill="none" stroke-linejoin="round"/>
<path d="M91.50 494.43L92.50 491.00L93.50 494.43" stroke="#000" stroke-width="0.45" fill="none" stroke-linejoin="round"/>
<path d="M114.00 494.43L114.75 481.00L115.25 470.50L115.75 483.50L116.00 491.00L116.75 494.43" stroke="#000" stroke-width="0.45" fill="none" stroke-linejoin="round"/>
<path d="M181.00 494.43L182.00 489.00L182.75 494.43" stroke="#000" stroke-width="0.45" fill="none" stroke-linejoin="round"/>
<path d="M193.75 494.43L195.50 491.00L196.25 486.00L197.00 478.50L197.50 471.00L198.00 468.50L198.50 473.50L198.75 474.75L199.25 466.00L199.75 463.50L200.25 461.00L200.75 468.50L201.00 473.50L201.50 466.00L201.75 481.00L202.00 491.00L203.00 494.43" stroke="#000" stroke-width="0.45" fill="none" stroke-linejoin="round"/>
<path d="M203.50 494.43L204.50 491.75L205.50 494.43" stroke="#000" stroke-width="0.45" fill="none" stroke-linejoin="round"/>
<path d="M213.75 494.43L215.00 490.50L216.00 493.00L217.00 491.00L218.00 494.43" stroke="#000" stroke-width="0.45" fill="none" stroke-linejoin="round"/>
<path d="M213.75 494.43L215.00 490.50L216.00 493.00L217.00 490.50L218.25 494.43" stroke="#000" stroke-width="0.45" fill="none" stroke-linejoin="round"/>
<path d="M233.75 494.43L235.00 492.25L237.00 493.50L238.00 494.43" stroke="#000" stroke-width="0.45" fill="none" stroke-linejoin="round"/>
<path d="M245.00 494.43L245.75 486.00L246.25 474.75L246.75 482.25L247.00 486.00L247.75 489.75L248.50 487.25L249.25 493.50L249.75 494.43" stroke="#000" stroke-width="0.45" fill="none" stroke-linejoin="round"/>
<path d="M288.00 494.43L289.25 490.50L290.50 494.43" stroke="#000" stroke-width="0.45" fill="none" stroke-linejoin="round"/>
<path d="M297.00 494.43L298.00 492.75L299.00 494.43" stroke="#000" stroke-width="0.45" fill="none" stroke-linejoin="round"/>
<path d="M324.00 494.43L325.00 491.75L326.00 494.43" stroke="#000" stroke-width="0.45" fill="none" stroke-linejoin="round"/>
<path d="M366.25 494.43L367.00 487.25L367.50 481.50L368.00 487.25L368.50 491.00L369.25 494.43" stroke="#000" stroke-width="0.45" fill="none" stroke-linejoin="round"/>
<path d="M370.00 494.43L371.25 492.25L373.00 493.50L374.50 492.00L376.25 494.43" stroke="#000" stroke-width="0.45" fill="none" stroke-linejoin="round"/>
<path d="M408.00 494.43L409.25 492.25L410.50 493.00L411.50 494.43" stroke="#000" stroke-width="0.45" fill="none" stroke-linejoin="round"/>
<path d="M85.17 395.43V494.88" stroke="#000" stroke-width="0.75" fill="none"/>
<path d="M84.85 494.43H566.40" stroke="#000" stroke-width="0.94" fill="none"/>
<path d="M566.30 494.43V491.83" stroke="#000" stroke-width="0.5" fill="none" opacity="0.7"/>
<path d="M85.45 395.63H88.05" stroke="#000" stroke-width="0.6" fill="none"/>
<path d="M85.45 444.88H88.25" stroke="#000" stroke-width="0.6" fill="none"/>
<text x="82.2" y="399.13" text-anchor="end" font-family="Liberation Sans, Arial, Helvetica, sans-serif" font-size="10" fill="#000" stroke="#000" stroke-width="0.2" text-rendering="geometricPrecision">1.0</text>
<text x="82.2" y="448.88" text-anchor="end" font-family="Liberation Sans, Arial, Helvetica, sans-serif" font-size="10" fill="#000" stroke="#000" stroke-width="0.2" text-rendering="geometricPrecision">0.5</text>
<text x="82.2" y="498.38" text-anchor="end" font-family="Liberation Sans, Arial, Helvetica, sans-serif" font-size="10" fill="#000" stroke="#000" stroke-width="0.2" text-rendering="geometricPrecision">0.0</text>
<text x="139.60" y="505.53" text-anchor="middle" font-family="Liberation Sans, Arial, Helvetica, sans-serif" font-size="10" fill="#000" stroke="#000" stroke-width="0.2" text-rendering="geometricPrecision">1000</text>
<text x="196.60" y="505.53" text-anchor="middle" font-family="Liberation Sans, Arial, Helvetica, sans-serif" font-size="10" fill="#000" stroke="#000" stroke-width="0.2" text-rendering="geometricPrecision">2000</text>
<text x="253.60" y="505.53" text-anchor="middle" font-family="Liberation Sans, Arial, Helvetica, sans-serif" font-size="10" fill="#000" stroke="#000" stroke-width="0.2" text-rendering="geometricPrecision">3000</text>
<text x="310.60" y="505.53" text-anchor="middle" font-family="Liberation Sans, Arial, Helvetica, sans-serif" font-size="10" fill="#000" stroke="#000" stroke-width="0.2" text-rendering="geometricPrecision">4000</text>
<text x="367.60" y="505.53" text-anchor="middle" font-family="Liberation Sans, Arial, Helvetica, sans-serif" font-size="10" fill="#000" stroke="#000" stroke-width="0.2" text-rendering="geometricPrecision">5000</text>
<text x="424.60" y="505.53" text-anchor="middle" font-family="Liberation Sans, Arial, Helvetica, sans-serif" font-size="10" fill="#000" stroke="#000" stroke-width="0.2" text-rendering="geometricPrecision">6000</text>
<text x="481.60" y="505.53" text-anchor="middle" font-family="Liberation Sans, Arial, Helvetica, sans-serif" font-size="10" fill="#000" stroke="#000" stroke-width="0.2" text-rendering="geometricPrecision">7000</text>
<text x="538.60" y="505.53" text-anchor="middle" font-family="Liberation Sans, Arial, Helvetica, sans-serif" font-size="10" fill="#000" stroke="#000" stroke-width="0.2" text-rendering="geometricPrecision">8000</text>
<path d="M89.50 557.94V561.74M92.50 557.94V561.74M96.75 557.94V561.74M100.50 557.94V561.74M103.00 557.94V561.74M105.75 557.94V561.74M111.75 557.94V561.74M117.50 557.94V561.74M120.00 557.94V561.74M123.00 557.94V561.74M125.50 557.94V561.74M130.75 557.94V561.74M137.50 557.94V561.74M140.00 557.94V561.74M146.25 557.94V561.74M149.25 557.94V561.74M151.75 557.94V561.74M157.50 557.94V561.74M163.25 557.94V561.74M167.50 557.94V561.74M173.75 557.94V561.74M176.25 557.94V561.74M179.25 557.94V561.74M183.25 557.94V561.74M198.75 557.94V561.74M208.00 557.94V561.74M211.25 557.94V561.74M213.75 557.94V561.74M215.75 557.94V561.74M217.50 557.94V561.74M220.00 557.94V561.74M230.75 557.94V561.74M237.50 557.94V561.74M242.50 557.94V561.74M247.50 557.94V561.74M250.00 557.94V561.74M253.25 557.94V561.74M255.50 557.94V561.74M258.00 557.94V561.74M267.50 557.94V561.74M270.00 557.94V561.74M274.50 557.94V561.74M280.00 557.94V561.74M289.50 557.94V561.74M293.00 557.94V561.74M300.75 557.94V561.74M303.75 557.94V561.74M310.00 557.94V561.74M318.25 557.94V561.74M323.75 557.94V561.74M326.25 557.94V561.74M328.25 557.94V561.74M330.00 557.94V561.74M334.25 557.94V561.74M336.75 557.94V561.74M351.25 557.94V561.74M353.00 557.94V561.74M360.00 557.94V561.74M362.50 557.94V561.74M368.75 557.94V561.74M372.50 557.94V561.74M377.50 557.94V561.74M384.50 557.94V561.74M386.25 557.94V561.74M393.75 557.94V561.74M396.25 557.94V561.74M400.50 557.94V561.74M403.75 557.94V561.74M408.00 557.94V561.74M415.75 557.94V561.74M418.25 557.94V561.74M424.50 557.94V561.74M427.00 557.94V561.74M429.25 557.94V561.74M431.25 557.94V561.74M441.75 557.94V561.74M449.50 557.94V561.74M477.00 557.94V561.74" stroke="#000" stroke-width="0.5" fill="none" opacity="0.68"/>
<path d="M139.30 607.84V599.84M196.30 607.84V599.84M253.30 607.84V599.84M310.30 607.84V599.84M367.30 607.84V599.84M424.30 607.84V599.84M481.30 607.84V599.84M538.30 607.84V599.84" stroke="#000" stroke-width="0.5" fill="none" opacity="0.7"/>
<path d="M125.53 607.84V605.24M165.61 607.84V605.24M205.69 607.84V605.24M245.77 607.84V605.24M285.85 607.84V605.24M325.93 607.84V605.24M366.01 607.84V605.24M406.09 607.84V605.24M446.17 607.84V605.24M486.25 607.84V605.24M526.33 607.84V605.24M566.41 607.84V605.24" stroke="#000" stroke-width="0.5" fill="none" opacity="0.55"/>
<path d="M133.25 607.75L133.75 590.00L134.25 571.25L134.75 590.00L135.25 603.75L135.50 600.00L136.00 607.75" stroke="#000" stroke-width="0.45" fill="none" stroke-linejoin="round"/>
<path d="M141.50 607.75L142.50 605.00L143.50 607.75" stroke="#000" stroke-width="0.45" fill="none" stroke-linejoin="round"/>
<path d="M153.25 607.75L154.25 605.50L155.25 607.75" stroke="#000" stroke-width="0.45" fill="none" stroke-linejoin="round"/>
<path d="M203.50 607.75L204.50 606.00L205.50 607.75" stroke="#000" stroke-width="0.45" fill="none" stroke-linejoin="round"/>
<path d="M232.75 607.75L233.50 597.50L234.00 567.50L234.50 545.00L235.00 580.00L235.50 605.00L236.25 607.75" stroke="#000" stroke-width="0.45" fill="none" stroke-linejoin="round"/>
<path d="M262.50 607.75L263.50 602.50L264.00 600.50L264.50 603.75L265.50 607.75" stroke="#000" stroke-width="0.45" fill="none" stroke-linejoin="round"/>
<path d="M283.75 607.75L284.75 597.50L285.25 585.00L285.50 578.75L286.00 590.00L286.25 595.00L287.00 607.75" stroke="#000" stroke-width="0.45" fill="none" stroke-linejoin="round"/>
<path d="M291.25 607.75L291.75 590.00L292.00 580.00L292.50 555.00L292.75 550.00L293.25 545.00L293.50 542.50L294.00 535.00L294.25 530.00L294.75 520.00L295.00 515.00L295.50 511.25L296.25 509.50L297.00 510.50L297.50 512.50L297.75 535.00L298.00 567.50L298.25 607.75" stroke="#000" stroke-width="0.45" fill="none" stroke-linejoin="round"/>
<path d="M294.50 542.50L295.00 515.00L295.25 537.50L295.00 565.00" stroke="#000" stroke-width="0.45" fill="none" stroke-linejoin="round"/>
<path d="M302.00 607.75L302.50 590.00L302.75 580.00L303.50 555.00L304.00 551.25L304.50 550.00L305.00 532.50L305.25 523.75L305.50 542.50L305.75 567.50L306.50 580.00L307.00 600.00L307.50 595.00L308.00 592.50L309.00 591.25L309.50 598.75L309.75 602.50L310.50 607.75" stroke="#000" stroke-width="0.45" fill="none" stroke-linejoin="round"/>
<path d="M313.50 607.75L313.75 592.50L314.00 580.00L314.50 535.00L315.25 531.25L315.50 555.00L315.75 580.00L316.00 607.75" stroke="#000" stroke-width="0.45" fill="none" stroke-linejoin="round"/>
<path d="M340.00 607.75L342.00 605.00L342.75 600.00L343.25 596.25L343.75 599.50L344.50 602.50L345.50 602.00L346.25 603.75L347.50 605.00L349.25 607.75" stroke="#000" stroke-width="0.45" fill="none" stroke-linejoin="round"/>
<path d="M406.25 607.75L406.75 580.00L407.00 567.50L407.75 545.00L408.25 540.00L408.75 537.50L409.25 528.75L409.50 524.50L409.75 537.50L410.00 555.00L410.50 587.50L411.25 601.25L412.00 603.75L412.50 598.75L413.00 607.75" stroke="#000" stroke-width="0.45" fill="none" stroke-linejoin="round"/>
<path d="M407.25 587.50L407.75 555.00L408.25 542.50L408.75 557.50L409.00 580.00" stroke="#000" stroke-width="0.45" fill="none" stroke-linejoin="round"/>
<path d="M453.00 607.75L454.25 602.50L455.25 607.75L457.50 606.75L458.75 605.00L460.00 607.75L461.50 605.00L462.25 602.00L463.00 600.75L463.75 604.50L464.50 607.75" stroke="#000" stroke-width="0.45" fill="none" stroke-linejoin="round"/>
<path d="M470.00 607.75L471.25 603.75L472.25 607.75" stroke="#000" stroke-width="0.45" fill="none" stroke-linejoin="round"/>
<path d="M452.50 607.75L453.50 604.50L454.25 602.00L455.00 605.50L456.00 607.75L457.50 606.25L458.75 605.00L460.00 607.75L460.75 604.50L461.25 603.75L462.00 605.00L462.50 602.50L463.00 601.25L463.75 605.00L464.50 607.75" stroke="#000" stroke-width="0.45" fill="none" stroke-linejoin="round"/>
<path d="M470.50 607.75L471.25 604.50L471.75 603.25L472.50 607.75" stroke="#000" stroke-width="0.45" fill="none" stroke-linejoin="round"/>
<path d="M85.17 508.84V608.29" stroke="#000" stroke-width="0.75" fill="none"/>
<path d="M84.85 607.84H566.40" stroke="#000" stroke-width="0.94" fill="none"/>
<path d="M566.30 607.84V605.24" stroke="#000" stroke-width="0.5" fill="none" opacity="0.7"/>
<path d="M85.45 509.04H88.05" stroke="#000" stroke-width="0.6" fill="none"/>
<path d="M85.45 558.29H88.25" stroke="#000" stroke-width="0.6" fill="none"/>
<text x="82.2" y="512.54" text-anchor="end" font-family="Liberation Sans, Arial, Helvetica, sans-serif" font-size="10" fill="#000" stroke="#000" stroke-width="0.2" text-rendering="geometricPrecision">1.0</text>
<text x="82.2" y="562.29" text-anchor="end" font-family="Liberation Sans, Arial, Helvetica, sans-serif" font-size="10" fill="#000" stroke="#000" stroke-width="0.2" text-rendering="geometricPrecision">0.5</text>
<text x="82.2" y="611.79" text-anchor="end" font-family="Liberation Sans, Arial, Helvetica, sans-serif" font-size="10" fill="#000" stroke="#000" stroke-width="0.2" text-rendering="geometricPrecision">0.0</text>
<text x="139.60" y="618.74" text-anchor="middle" font-family="Liberation Sans, Arial, Helvetica, sans-serif" font-size="10" fill="#000" stroke="#000" stroke-width="0.2" text-rendering="geometricPrecision">1000</text>
<text x="196.60" y="618.74" text-anchor="middle" font-family="Liberation Sans, Arial, Helvetica, sans-serif" font-size="10" fill="#000" stroke="#000" stroke-width="0.2" text-rendering="geometricPrecision">2000</text>
<text x="253.60" y="618.74" text-anchor="middle" font-family="Liberation Sans, Arial, Helvetica, sans-serif" font-size="10" fill="#000" stroke="#000" stroke-width="0.2" text-rendering="geometricPrecision">3000</text>
<text x="310.60" y="618.74" text-anchor="middle" font-family="Liberation Sans, Arial, Helvetica, sans-serif" font-size="10" fill="#000" stroke="#000" stroke-width="0.2" text-rendering="geometricPrecision">4000</text>
<text x="367.60" y="618.74" text-anchor="middle" font-family="Liberation Sans, Arial, Helvetica, sans-serif" font-size="10" fill="#000" stroke="#000" stroke-width="0.2" text-rendering="geometricPrecision">5000</text>
<text x="424.60" y="618.74" text-anchor="middle" font-family="Liberation Sans, Arial, Helvetica, sans-serif" font-size="10" fill="#000" stroke="#000" stroke-width="0.2" text-rendering="geometricPrecision">6000</text>
<text x="481.60" y="618.74" text-anchor="middle" font-family="Liberation Sans, Arial, Helvetica, sans-serif" font-size="10" fill="#000" stroke="#000" stroke-width="0.2" text-rendering="geometricPrecision">7000</text>
<text x="538.60" y="618.74" text-anchor="middle" font-family="Liberation Sans, Arial, Helvetica, sans-serif" font-size="10" fill="#000" stroke="#000" stroke-width="0.2" text-rendering="geometricPrecision">8000</text>
<path d="M88.75 671.35V675.15M92.50 671.35V675.15M101.25 671.35V675.15M104.25 671.35V675.15M111.75 671.35V675.15M116.25 671.35V675.15M120.00 671.35V675.15M126.25 671.35V675.15M130.00 671.35V675.15M143.00 671.35V675.15M145.50 671.35V675.15M147.50 671.35V675.15M150.00 671.35V675.15M151.75 671.35V675.15M160.00 671.35V675.15M165.50 671.35V675.15M177.50 671.35V675.15M183.25 671.35V675.15M186.25 671.35V675.15M192.00 671.35V675.15M193.75 671.35V675.15M212.50 671.35V675.15M218.00 671.35V675.15M222.50 671.35V675.15M229.25 671.35V675.15M233.25 671.35V675.15M240.00 671.35V675.15M262.50 671.35V675.15M264.50 671.35V675.15M284.50 671.35V675.15M295.75 671.35V675.15M298.75 671.35V675.15M300.50 671.35V675.15M313.75 671.35V675.15M316.75 671.35V675.15M321.75 671.35V675.15M332.50 671.35V675.15M342.50 671.35V675.15M357.00 671.35V675.15M358.75 671.35V675.15M364.50 671.35V675.15M368.00 671.35V675.15M369.25 671.35V675.15M370.50 671.35V675.15M371.75 671.35V675.15M374.25 671.35V675.15M376.75 671.35V675.15M383.75 671.35V675.15M385.50 671.35V675.15M390.00 671.35V675.15M392.50 671.35V675.15M396.25 671.35V675.15M400.00 671.35V675.15M403.00 671.35V675.15M405.75 671.35V675.15M411.25 671.35V675.15M417.50 671.35V675.15M422.00 671.35V675.15M428.00 671.35V675.15M431.25 671.35V675.15M433.75 671.35V675.15M436.25 671.35V675.15M439.25 671.35V675.15M445.50 671.35V675.15M447.50 671.35V675.15M449.25 671.35V675.15M451.25 671.35V675.15M455.75 671.35V675.15M457.50 671.35V675.15M460.00 671.35V675.15M461.75 671.35V675.15M463.50 671.35V675.15M465.00 671.35V675.15M466.75 671.35V675.15M468.50 671.35V675.15M470.00 671.35V675.15M471.75 671.35V675.15M473.25 671.35V675.15" stroke="#000" stroke-width="0.5" fill="none" opacity="0.68"/>
<path d="M139.30 721.25V713.25M196.30 721.25V713.25M253.30 721.25V713.25M310.30 721.25V713.25M367.30 721.25V713.25M424.30 721.25V713.25M481.30 721.25V713.25M538.30 721.25V713.25" stroke="#000" stroke-width="0.5" fill="none" opacity="0.7"/>
<path d="M125.53 721.25V718.65M165.61 721.25V718.65M205.69 721.25V718.65M245.77 721.25V718.65M285.85 721.25V718.65M325.93 721.25V718.65M366.01 721.25V718.65M406.09 721.25V718.65M446.17 721.25V718.65M486.25 721.25V718.65M526.33 721.25V718.65M566.41 721.25V718.65" stroke="#000" stroke-width="0.5" fill="none" opacity="0.55"/>
<path d="M92.00 721.25L93.00 711.50L93.75 704.00L94.50 691.50L95.00 681.50L95.50 664.00L95.75 655.25L96.50 654.00L96.75 644.00L97.25 632.75L97.75 642.75L98.00 649.00L98.25 674.00L98.50 694.00L98.75 721.25" stroke="#000" stroke-width="0.45" fill="none" stroke-linejoin="round"/>
<path d="M95.25 684.00L95.75 655.25L96.25 654.50L96.50 676.50" stroke="#000" stroke-width="0.45" fill="none" stroke-linejoin="round"/>
<path d="M106.00 721.25L106.12 669.00L106.25 625.25L107.25 625.25L107.38 669.00L107.50 721.25" stroke="#000" stroke-width="0.45" fill="none" stroke-linejoin="round"/>
<path d="M129.00 721.25L129.75 694.00L130.25 671.50L130.75 656.00L131.25 671.50L131.50 681.50L131.75 704.00L132.00 721.25" stroke="#000" stroke-width="0.45" fill="none" stroke-linejoin="round"/>
<path d="M162.50 721.25L162.75 694.00L163.00 669.00L163.50 646.00L164.00 654.00L164.50 664.00L165.00 691.50L165.25 706.50L165.75 721.25" stroke="#000" stroke-width="0.45" fill="none" stroke-linejoin="round"/>
<path d="M168.75 721.25L171.25 717.75L172.00 711.50L172.50 701.50L173.00 686.50L173.50 669.00L174.00 649.00L174.50 629.50L174.75 644.00L175.00 656.50L175.25 694.00L175.50 721.25" stroke="#000" stroke-width="0.45" fill="none" stroke-linejoin="round"/>
<path d="M195.50 721.25L196.00 715.25L196.50 711.00L197.00 715.25L197.50 717.75L198.75 720.25L199.50 721.25" stroke="#000" stroke-width="0.45" fill="none" stroke-linejoin="round"/>
<path d="M200.00 719.50L201.75 714.00L202.25 705.25L202.75 694.00L203.50 681.50L204.00 687.75L204.50 694.00L205.00 706.50L205.25 714.00L207.00 719.00L208.25 721.25" stroke="#000" stroke-width="0.45" fill="none" stroke-linejoin="round"/>
<path d="M243.50 721.25L244.50 715.25L245.25 721.25" stroke="#000" stroke-width="0.45" fill="none" stroke-linejoin="round"/>
<path d="M255.00 721.25L256.25 717.75L257.25 720.25L258.00 716.50L258.75 719.00L259.50 716.50L260.25 721.25" stroke="#000" stroke-width="0.45" fill="none" stroke-linejoin="round"/>
<path d="M265.50 721.25L266.25 706.50L266.50 689.00L266.75 669.00L267.25 638.50L267.50 649.00L268.00 664.00L268.75 681.50L269.50 704.00L270.50 714.00L271.25 709.00L272.00 717.75L273.00 711.50L274.00 719.00L275.00 721.25" stroke="#000" stroke-width="0.45" fill="none" stroke-linejoin="round"/>
<path d="M278.50 721.25L279.50 711.50L280.25 707.75L280.75 714.00L281.00 717.75L281.75 721.25" stroke="#000" stroke-width="0.45" fill="none" stroke-linejoin="round"/>
<path d="M288.00 721.25L289.00 715.25L289.50 714.00L290.00 719.00L290.75 706.50L291.50 692.00L292.00 701.50L292.25 706.50L293.00 721.25" stroke="#000" stroke-width="0.45" fill="none" stroke-linejoin="round"/>
<path d="M303.00 721.25L304.25 706.50L304.75 694.00L305.25 681.50L305.75 659.00L306.00 649.00L306.50 632.00L306.75 646.50L307.00 664.00L307.75 689.00L308.50 704.00L309.25 696.50L309.75 706.50L310.00 714.00L310.75 721.25" stroke="#000" stroke-width="0.45" fill="none" stroke-linejoin="round"/>
<path d="M305.50 694.00L306.25 669.00L306.75 656.50L307.25 676.50L307.75 694.00" stroke="#000" stroke-width="0.45" fill="none" stroke-linejoin="round"/>
<path d="M323.50 721.25L324.00 704.00L324.25 694.00L324.75 661.50L325.00 644.00L325.75 639.00L326.50 630.25L327.00 639.00L327.25 644.00L328.00 659.00L328.75 664.00L329.25 676.50L329.50 681.50L330.00 706.50L330.75 719.00L331.50 721.25" stroke="#000" stroke-width="0.45" fill="none" stroke-linejoin="round"/>
<path d="M327.00 701.50L327.75 669.00L328.25 659.00L329.00 676.50L329.50 701.50" stroke="#000" stroke-width="0.45" fill="none" stroke-linejoin="round"/>
<path d="M335.00 721.25L336.25 712.75L337.00 719.00L338.00 711.50L338.75 704.00L339.25 714.00L339.75 721.25" stroke="#000" stroke-width="0.45" fill="none" stroke-linejoin="round"/>
<path d="M343.75 721.25L344.75 706.50L345.25 694.00L345.50 656.50L346.00 669.00L346.50 714.00L347.00 706.50L347.50 681.50L348.00 656.50L349.00 644.00L350.00 651.50L350.75 639.00L351.50 624.50L352.25 641.50L353.00 634.00L353.75 646.50L354.00 669.00L354.25 694.00L354.75 721.25" stroke="#000" stroke-width="0.45" fill="none" stroke-linejoin="round"/>
<path d="M347.50 714.00L348.00 681.50L348.50 664.00L349.00 645.25L349.50 669.00L350.00 652.75" stroke="#000" stroke-width="0.45" fill="none" stroke-linejoin="round"/>
<path d="M406.50 721.25L407.50 714.00L408.00 707.00L408.50 712.75L408.75 716.50L409.50 721.25" stroke="#000" stroke-width="0.45" fill="none" stroke-linejoin="round"/>
<path d="M85.17 622.25V721.70" stroke="#000" stroke-width="0.75" fill="none"/>
<path d="M84.85 721.25H566.40" stroke="#000" stroke-width="0.94" fill="none"/>
<path d="M566.30 721.25V718.65" stroke="#000" stroke-width="0.5" fill="none" opacity="0.7"/>
<path d="M85.45 622.45H88.05" stroke="#000" stroke-width="0.6" fill="none"/>
<path d="M85.45 671.70H88.25" stroke="#000" stroke-width="0.6" fill="none"/>
<text x="82.2" y="625.95" text-anchor="end" font-family="Liberation Sans, Arial, Helvetica, sans-serif" font-size="10" fill="#000" stroke="#000" stroke-width="0.2" text-rendering="geometricPrecision">1.0</text>
<text x="82.2" y="675.70" text-anchor="end" font-family="Liberation Sans, Arial, Helvetica, sans-serif" font-size="10" fill="#000" stroke="#000" stroke-width="0.2" text-rendering="geometricPrecision">0.5</text>
<text x="82.2" y="725.20" text-anchor="end" font-family="Liberation Sans, Arial, Helvetica, sans-serif" font-size="10" fill="#000" stroke="#000" stroke-width="0.2" text-rendering="geometricPrecision">0.0</text>
<text x="139.60" y="731.95" text-anchor="middle" font-family="Liberation Sans, Arial, Helvetica, sans-serif" font-size="10" fill="#000" stroke="#000" stroke-width="0.2" text-rendering="geometricPrecision">1000</text>
<text x="196.60" y="731.95" text-anchor="middle" font-family="Liberation Sans, Arial, Helvetica, sans-serif" font-size="10" fill="#000" stroke="#000" stroke-width="0.2" text-rendering="geometricPrecision">2000</text>
<text x="253.60" y="731.95" text-anchor="middle" font-family="Liberation Sans, Arial, Helvetica, sans-serif" font-size="10" fill="#000" stroke="#000" stroke-width="0.2" text-rendering="geometricPrecision">3000</text>
<text x="310.60" y="731.95" text-anchor="middle" font-family="Liberation Sans, Arial, Helvetica, sans-serif" font-size="10" fill="#000" stroke="#000" stroke-width="0.2" text-rendering="geometricPrecision">4000</text>
<text x="367.60" y="731.95" text-anchor="middle" font-family="Liberation Sans, Arial, Helvetica, sans-serif" font-size="10" fill="#000" stroke="#000" stroke-width="0.2" text-rendering="geometricPrecision">5000</text>
<text x="424.60" y="731.95" text-anchor="middle" font-family="Liberation Sans, Arial, Helvetica, sans-serif" font-size="10" fill="#000" stroke="#000" stroke-width="0.2" text-rendering="geometricPrecision">6000</text>
<text x="481.60" y="731.95" text-anchor="middle" font-family="Liberation Sans, Arial, Helvetica, sans-serif" font-size="10" fill="#000" stroke="#000" stroke-width="0.2" text-rendering="geometricPrecision">7000</text>
<text x="538.60" y="731.95" text-anchor="middle" font-family="Liberation Sans, Arial, Helvetica, sans-serif" font-size="10" fill="#000" stroke="#000" stroke-width="0.2" text-rendering="geometricPrecision">8000</text>
<path d="M65 47.40 C61 48.20 58.4 50.90 58.4 55.40 L58.4 208.55 C58.4 213.55 56 216.05 51.2 217.55 C56 219.05 58.4 221.55 58.4 226.55 L58.4 379.70 C58.4 384.20 61 386.90 65 387.70" stroke="#000" stroke-width="0.5" fill="none"/>
<path d="M65 387.70 C61 388.50 58.4 391.20 58.4 395.70 L58.4 548.90 C58.4 553.90 56 556.40 51.2 557.90 C56 559.40 58.4 561.90 58.4 566.90 L58.4 720.10 C58.4 724.60 61 727.30 65 728.10" stroke="#000" stroke-width="0.5" fill="none"/>
<text transform="translate(48.3 218.5) rotate(-90)" text-anchor="middle" font-family="Liberation Sans, Arial, Helvetica, sans-serif" font-size="10" fill="#000" stroke="#000" stroke-width="0.2" text-rendering="geometricPrecision">Direct Sequence</text>
<text transform="translate(48.3 558.6) rotate(-90)" text-anchor="middle" font-family="Liberation Sans, Arial, Helvetica, sans-serif" font-size="10" fill="#000" stroke="#000" stroke-width="0.2" text-rendering="geometricPrecision">Complementary Sequence</text>
<text x="326.5" y="749" text-anchor="middle" font-family="Liberation Sans, Arial, Helvetica, sans-serif" font-size="10" fill="#000" stroke="#000" stroke-width="0.2" text-rendering="geometricPrecision">Nucleotide Position</text>
</svg>
</body></html>
